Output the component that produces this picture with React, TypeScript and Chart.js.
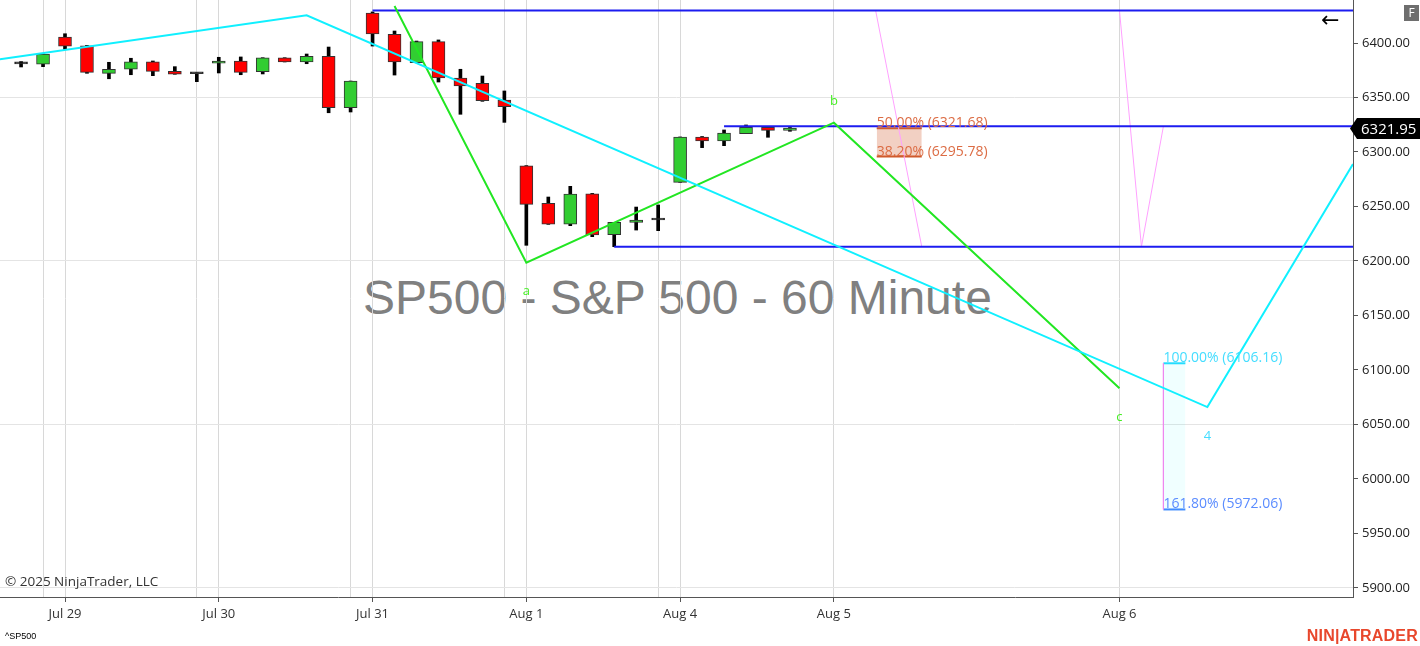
import React, { useEffect, useRef } from "react";
import { Chart, registerables } from "chart.js";

Chart.register(...registerables);

// ---------------- data ----------------
const opens = [
  6380.8, 6380.5, 6405.5, 6397.5, 6372.2, 6375.9, 6382.8, 6374.0, 6371.8, 6381.4,
  6383.5, 6373.7, 6386.5, 6382.6, 6387.8, 6340.6, 6427.5, 6408.0, 6381.9, 6401.2,
  6367.9, 6363.0, 6347.7, 6287.2, 6252.9, 6233.9, 6261.7, 6224.1, 6235.5, 6237.6,
  6272.2, 6313.8, 6310.1, 6316.8, 6322.7, 6319.9,
];
const highs = [
  6383.0, 6390.0, 6408.5, 6397.8, 6382.3, 6386.0, 6383.5, 6378.3, 6372.5, 6386.9,
  6387.2, 6386.5, 6386.5, 6389.9, 6396.3, 6365.1, 6428.5, 6411.0, 6401.8, 6402.8,
  6375.9, 6369.7, 6356.0, 6287.5, 6258.7, 6268.5, 6262.0, 6235.5, 6249.5, 6251.4,
  6313.8, 6314.2, 6320.2, 6324.8, 6323.5, 6322.5,
];
const lows = [
  6378.0, 6378.3, 6394.2, 6372.2, 6367.2, 6370.9, 6370.0, 6371.3, 6364.5, 6372.5,
  6370.9, 6371.6, 6382.6, 6381.0, 6336.0, 6336.7, 6397.2, 6370.6, 6381.9, 6364.2,
  6334.6, 6346.5, 6327.2, 6214.4, 6233.6, 6232.4, 6222.3, 6213.1, 6228.4, 6227.8,
  6272.2, 6304.0, 6305.8, 6316.8, 6313.5, 6319.0,
];
const closes = [
  6380.8, 6389.9, 6397.2, 6373.1, 6375.9, 6382.8, 6374.0, 6371.3, 6371.8, 6383.5,
  6373.1, 6386.5, 6382.6, 6387.8, 6340.6, 6365.1, 6408.3, 6382.6, 6401.2, 6367.9,
  6360.6, 6347.1, 6341.6, 6252.0, 6233.9, 6261.5, 6223.9, 6235.5, 6237.6, 6237.6,
  6313.8, 6310.1, 6317.4, 6322.7, 6319.9, 6321.95,
];

const dayLabels = ["Jul 29", "Jul 30", "Jul 31", "Aug 1", "Aug 4", "Aug 5", "Aug 6"];
const dayStartBars = [2, 9, 16, 23, 30, 37, 50];
const sessionEndBars = [1, 8, 15, 22, 29];

const priceTicks = [5900, 5950, 6000, 6050, 6100, 6150, 6200, 6250, 6300, 6350, 6400];
const priceGridTicks = [5900, 6050, 6200, 6350];

// cyan wave (…-3-4-…)
const cyanWaveX = [-0.96, 13, 54, 60.63];
const cyanWaveY = [6385.0, 6425.4, 6066.0, 6289.0];
const cyanWaveLabels = ["", "", "4", ""];

// green a-b-c wave
const greenWaveX = [17, 23, 37, 50];
const greenWaveY = [6433.9, 6198.4, 6326.9, 6083.2];
const greenWaveLabels = ["", "a", "b", "c"];

// blue horizontal rays
const rayStartX = [16, 32, 27];
const rayLevels = [6429.8, 6323.6, 6213.1];

// pink lines
const pinkLineAX = [38.9, 41];
const pinkLineAY = [6429.8, 6213.1];
const pinkLineBX = [50, 51, 52];
const pinkLineBY = [6429.8, 6213.1, 6323.6];

// fib retracement
const fibRetrX = [38.95, 41];
const fibRetrLevels = [50, 38.2];
const fibRetrPrices = [6321.68, 6295.78];

// fib extension
const fibExtX = [52, 53];
const fibExtLevels = [100, 161.8];
const fibExtPrices = [6106.16, 5972.06];

// ---------------- layout constants ----------------
const X_MIN = -0.959;
const X_MAX = 60.63;
const Y_MIN = 5891.74;
const Y_MAX = 6439.45;

const UP = "#32cd32";
const DOWN = "#ff0000";

type Pt = { x: number; y: number };
const pts = (xs: number[], ys: number[]): Pt[] => xs.map((x, k) => ({ x, y: ys[k] }));

const lineDs = (data: Pt[], color: string, width: number, extra: any = {}) => ({
  type: "line" as const,
  data,
  borderColor: color,
  borderWidth: width,
  pointRadius: 0,
  tension: 0,
  fill: false,
  order: 1,
  ...extra,
});

const overlayPlugin = {
  id: "overlay",
  afterDatasetsDraw(chart: any) {
    const { ctx, chartArea } = chart;
    const x = chart.scales.x;
    const y = chart.scales.y;
    ctx.save();
    ctx.beginPath();
    ctx.rect(chartArea.left, chartArea.top, chartArea.right - chartArea.left, chartArea.bottom - chartArea.top);
    ctx.clip();

    const waveLabel = (xs: number[], ys: number[], labels: string[], color: string) => {
      ctx.font = '13px "Open Sans"';
      ctx.textAlign = "center";
      ctx.textBaseline = "middle";
      ctx.fillStyle = color;
      labels.forEach((lab, k) => {
        if (!lab) return;
        const prev = ys[k - 1];
        const next = ys[k + 1];
        const peak = (prev === undefined || ys[k] > prev) && (next === undefined || ys[k] > next);
        const px = x.getPixelForValue(xs[k]);
        const py = y.getPixelForValue(ys[k]);
        ctx.fillText(lab, px, peak ? py - 21 : py + 29);
      });
    };
    waveLabel(greenWaveX, greenWaveY, greenWaveLabels, "#44ee22");
    waveLabel(cyanWaveX, cyanWaveY, cyanWaveLabels, "#44ddff");

    ctx.font = '14px "Open Sans"';
    ctx.textAlign = "left";
    ctx.textBaseline = "alphabetic";
    const fx = x.getPixelForValue(fibRetrX[0]);
    fibRetrLevels.forEach((lv, k) => {
      ctx.fillStyle = "#dc6c44";
      ctx.fillText(`${lv.toFixed(2)}% (${fibRetrPrices[k].toFixed(2)})`, fx, y.getPixelForValue(fibRetrPrices[k]) - 1);
    });
    const ex = x.getPixelForValue(fibExtX[0]);
    const extColors = ["#44ddff", "#5b8cff"];
    fibExtLevels.forEach((lv, k) => {
      ctx.fillStyle = extColors[k];
      ctx.fillText(`${lv.toFixed(2)}% (${fibExtPrices[k].toFixed(2)})`, ex, y.getPixelForValue(fibExtPrices[k]) - 1);
    });
    ctx.restore();
  },
  afterDraw(chart: any) {
    const { ctx } = chart;
    const y = chart.scales.y;
    const last = closes[closes.length - 1];
    const py = Math.round(y.getPixelForValue(last)) + 0.5;
    const left = chart.chartArea.right - 3;
    ctx.save();
    ctx.fillStyle = "#000";
    ctx.beginPath();
    ctx.moveTo(left, py);
    ctx.lineTo(left + 7, py - 10.5);
    ctx.lineTo(1420, py - 10.5);
    ctx.lineTo(1420, py + 10.5);
    ctx.lineTo(left + 7, py + 10.5);
    ctx.closePath();
    ctx.fill();
    ctx.fillStyle = "#fff";
    ctx.font = '15px "Open Sans"';
    ctx.textAlign = "left";
    ctx.textBaseline = "middle";
    ctx.fillText(last.toFixed(2), left + 11, py + 1);
    ctx.restore();
  },
};

export default function App() {
  const canvasRef = useRef<HTMLCanvasElement | null>(null);

  useEffect(() => {
    document.body.style.margin = "0";
    const canvas = canvasRef.current;
    if (!canvas) return;

    const idx = opens.map((_, i) => i);
    const bodyColors = idx.map((i) =>
      closes[i] > opens[i] ? UP : closes[i] < opens[i] ? DOWN : "#000"
    );

    const datasets: any[] = [
      {
        type: "bar",
        data: idx.map((i) => ({ x: i, y: [lows[i], highs[i]] })),
        backgroundColor: "#000",
        borderWidth: 0,
        barThickness: 3,
        grouped: false,
        order: 20,
      },
      {
        type: "bar",
        data: idx.map((i) => ({ x: i, y: [opens[i], closes[i]] })),
        backgroundColor: bodyColors,
        borderColor: "#333",
        borderWidth: 1,
        borderSkipped: false,
        barThickness: 13,
        minBarLength: 2,
        grouped: false,
        order: 19,
      },
      // fib retracement box (bottom, then top filled to bottom)
      lineDs(pts(fibRetrX, [fibRetrPrices[1], fibRetrPrices[1]]), "#cf5a2c", 2, { order: 5 }),
      lineDs(pts(fibRetrX, [fibRetrPrices[0], fibRetrPrices[0]]), "#cf5a2c", 2, {
        order: 5,
        fill: "-1",
        backgroundColor: "rgba(218,120,84,0.35)",
      }),
      // fib extension box
      lineDs(pts(fibExtX, [fibExtPrices[1], fibExtPrices[1]]), "#3f8cff", 2, { order: 5 }),
      lineDs(pts(fibExtX, [fibExtPrices[0], fibExtPrices[0]]), "#22ddff", 2, {
        order: 5,
        fill: "-1",
        backgroundColor: "rgba(0,255,255,0.06)",
      }),
      lineDs(pts([fibExtX[0], fibExtX[0]], fibExtPrices), "#ee88ee", 1, { order: 4 }),
      // pink lines
      lineDs(pts(pinkLineAX, pinkLineAY), "#ffa0ff", 1, { order: 4 }),
      lineDs(pts(pinkLineBX, pinkLineBY), "#ffa0ff", 1, { order: 4 }),
      // blue rays
      ...rayStartX.map((sx, k) =>
        lineDs(pts([sx, X_MAX], [rayLevels[k], rayLevels[k]]), "#1c1cf0", 2, { order: 3 })
      ),
      // waves
      lineDs(pts(greenWaveX, greenWaveY), "#22e622", 2, { order: 2 }),
      lineDs(pts(cyanWaveX, cyanWaveY), "#10f0ff", 2, { order: 1 }),
    ];

    const tickPositions = [...sessionEndBars, ...dayStartBars].sort((a, b) => a - b);

    const chart = new Chart(canvas, {
      type: "bar",
      data: { datasets },
      plugins: [overlayPlugin],
      options: {
        animation: false,
        responsive: false,
        events: [],
        layout: { padding: 0 },
        plugins: { legend: { display: false }, tooltip: { enabled: false } },
        scales: {
          x: {
            type: "linear",
            min: X_MIN,
            max: X_MAX,
            offset: false,
            afterBuildTicks: (s: any) => {
              s.ticks = tickPositions.map((v) => ({ value: v }));
            },
            ticks: {
              autoSkip: false,
              maxRotation: 0,
              padding: 4,
              color: "#333",
              font: { family: "Open Sans", size: 13 },
              callback: (v: any) => {
                const k = dayStartBars.indexOf(Number(v));
                return k >= 0 ? dayLabels[k] : "";
              },
            },
            grid: {
              offset: false,
              color: "#d8d8d8",
              lineWidth: 1,
              tickLength: 5,
              tickColor: (c: any) =>
                c.tick && dayStartBars.includes(c.tick.value) ? "#555" : "rgba(0,0,0,0)",
            },
            border: { color: "#555", width: 1 },
            afterFit: (s: any) => {
              s.height = 49;
              s.paddingLeft = 0;
              s.paddingRight = 0;
            },
          },
          y: {
            type: "linear",
            position: "right",
            min: Y_MIN,
            max: Y_MAX,
            beginAtZero: false,
            afterBuildTicks: (s: any) => {
              s.ticks = priceTicks.map((v) => ({ value: v }));
            },
            ticks: {
              autoSkip: false,
              padding: 4,
              color: "#222",
              font: { family: "Open Sans", size: 13 },
              callback: (v: any) => Number(v).toFixed(2),
            },
            grid: {
              color: (c: any) =>
                c.tick && priceGridTicks.includes(c.tick.value) ? "#e4e4e4" : "rgba(0,0,0,0)",
              tickColor: "#555",
              tickLength: 5,
            },
            border: { color: "#555", width: 1 },
            afterFit: (s: any) => {
              s.width = 67;
              s.paddingTop = 0;
              s.paddingBottom = 0;
            },
          },
        },
      } as any,
    });

    return () => chart.destroy();
  }, []);

  const abs = (o: React.CSSProperties): React.CSSProperties => ({
    position: "absolute",
    whiteSpace: "nowrap",
    margin: 0,
    ...o,
  });

  return (
    <div style={{ position: "relative", width: 1420, height: 646, background: "#fff", overflow: "hidden" }}>
      <div
        style={abs({
          left: 363,
          top: 274,
          fontFamily: '"Liberation Sans", Arial, sans-serif',
          fontSize: 48,
          lineHeight: "48px",
          color: "#808080",
          zIndex: 0,
        })}
      >
        SP500 - S&amp;P 500 - 60 Minute
      </div>
      <canvas
        ref={canvasRef}
        width={1420}
        height={646}
        style={{ position: "absolute", left: 0, top: 0, width: 1420, height: 646, zIndex: 1 }}
      />
      <div
        style={abs({
          left: 5,
          top: 575,
          fontFamily: '"Open Sans", sans-serif',
          fontSize: 13.5,
          lineHeight: "13.5px",
          color: "#333",
          zIndex: 2,
        })}
      >
        © 2025 NinjaTrader, LLC
      </div>
      <div
        style={abs({
          left: 5,
          top: 632,
          fontFamily: '"Liberation Sans", Arial, sans-serif',
          fontSize: 9,
          lineHeight: "9px",
          color: "#000",
          zIndex: 2,
        })}
      >
        ^SP500
      </div>
      <div
        style={abs({
          right: 2,
          top: 628,
          fontFamily: '"Liberation Sans", Arial, sans-serif',
          fontWeight: 700,
          fontSize: 16,
          lineHeight: "16px",
          letterSpacing: 0.2,
          color: "#e8472c",
          zIndex: 2,
        })}
      >
        NIN|ATRADER
      </div>
      <div
        style={abs({
          left: 1404,
          top: 5,
          width: 15,
          height: 16,
          background: "#6e6e6e",
          color: "#fff",
          fontFamily: '"Open Sans", sans-serif',
          fontSize: 12,
          lineHeight: "16px",
          textAlign: "center",
          zIndex: 2,
        })}
      >
        F
      </div>
      <div
        style={abs({
          left: 1321,
          top: 8,
          fontFamily: '"DejaVu Sans", sans-serif',
          fontSize: 22,
          lineHeight: "24px",
          color: "#000",
          zIndex: 2,
        })}
      >
        ←
      </div>
    </div>
  );
}
